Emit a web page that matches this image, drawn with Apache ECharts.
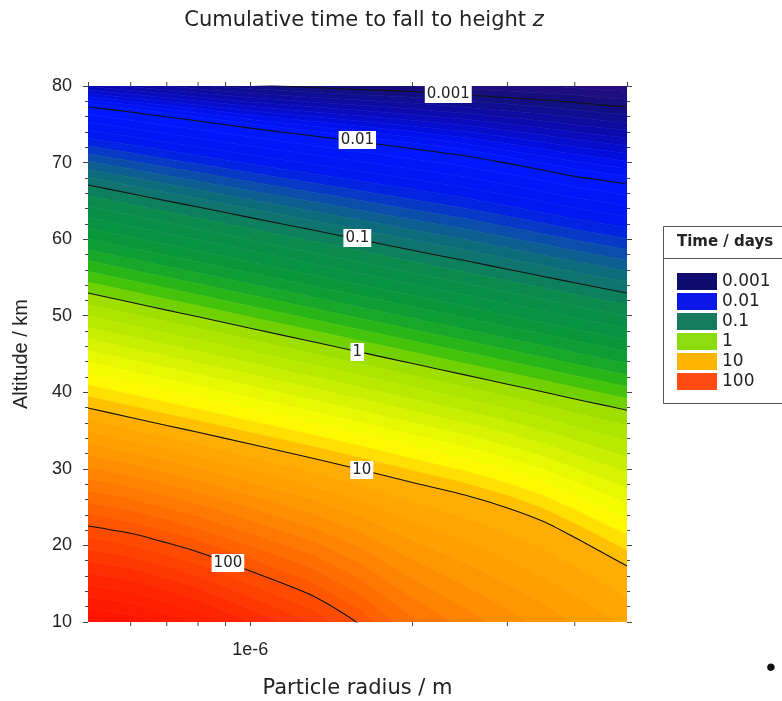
<!DOCTYPE html>
<html><head><meta charset="utf-8">
<script src="https://cdn.jsdelivr.net/npm/echarts@6/dist/echarts.min.js"></script>
<style>html,body{margin:0;padding:0;background:#fff}#c{width:782px;height:701px}</style>
</head><body><div id="c"></div>
<script>
// ---- data ----
const radius = [5e-7, 6e-7, 7e-7, 8e-7, 1e-6, 1.3e-6, 1.6e-6, 2e-6, 2.5e-6, 3e-6, 3.5e-6, 4e-6, 4.5e-6, 5e-6];
const contourLevels = [0.001, 0.01, 0.1, 1, 10, 100];
const levelNames = ['0.001', '0.01', '0.1', '1', '10', '100'];
// altitude (km) of each contour at each radius
const alt_0001 = [81.7, 81.3, 81.0, 80.65, 80.2, 79.8, 79.54, 79.28, 78.82, 78.5, 78.17, 77.85, 77.5, 77.26];
const alt_001  = [77.26, 76.6, 75.95, 75.43, 74.5, 73.5, 72.7, 71.8, 70.9, 69.9, 69.0, 68.2, 67.7, 67.2];
const alt_01   = [67.07, 65.95, 65.0, 64.2, 62.81, 61.22, 59.94, 58.55, 57.2, 56.07, 55.13, 54.3, 53.59, 52.97];
const alt_1    = [52.97, 51.75, 50.73, 49.86, 48.36, 46.63, 45.24, 43.75, 42.27, 41.06, 40.04, 39.12, 38.36, 37.66];
const alt_10   = [37.95, 36.71, 35.66, 34.78, 33.25, 31.42, 29.92, 28.22, 26.58, 24.9, 23.12, 21.03, 19.07, 17.3];
const alt_100  = [22.54, 21.58, 20.34, 19.14, 16.66, 13.49, 9.6, 3.2, -2.8, -8, -12.6, -16.6, -19.9, -23];
const contourAlt = [alt_0001, alt_001, alt_01, alt_1, alt_10, alt_100];
const legendColors = ['#0d0b6e', '#0b17e8', '#167a5c', '#8cdc10', '#ffb400', '#ff4a10'];
const labelRadius = [2.33e-6, 1.58e-6, 1.58e-6, 1.58e-6, 1.61e-6, 9.09e-7];
const labelAlt = [78.96, 72.95, 60.15, 45.26, 29.85, 17.7];
const xTickValues = [1e-6];
const xTickLabels = ['1e-6'];
const xMinorTicks = [6e-7, 7e-7, 8e-7, 9e-7, 2e-6, 3e-6, 4e-6];
// colour map: log10(time) -> colour
const cmapStops = [
  [-3.7, '#4a0a84'], [-3.3, '#2c0c80'], [-3.0, '#12107a'], [-2.6, '#0a0ab4'], [-2.25, '#0010ee'],
  [-2.0, '#0018ff'], [-1.6, '#0018f0'], [-1.4, '#0a44b8'], [-1.2, '#0d6882'], [-1.0, '#0f7868'],
  [-0.9, '#0a8850'], [-0.6, '#089440'], [-0.4, '#10a030'], [-0.2, '#30bc10'], [-0.05, '#70d000'],
  [0.0, '#98dc00'], [0.35, '#c8ee00'], [0.6, '#f0fa00'], [0.72, '#ffff00'], [0.85, '#ffe000'],
  [1.0, '#ffb000'], [1.4, '#ff9400'], [1.7, '#ff7400'], [2.0, '#ff5000'], [2.4, '#ff2800'], [3.0, '#ff0800']
];

function hexToRgb(h){return [parseInt(h.substr(1,2),16),parseInt(h.substr(3,2),16),parseInt(h.substr(5,2),16)];}
function cmap(L){
  if (L <= cmapStops[0][0]) return cmapStops[0][1];
  for (let k = 0; k < cmapStops.length - 1; k++) {
    const a = cmapStops[k], b = cmapStops[k+1];
    if (L <= b[0]) {
      const t = (L - a[0]) / (b[0] - a[0]);
      const ca = hexToRgb(a[1]), cb = hexToRgb(b[1]);
      const c = ca.map((v, j) => Math.round(v + (cb[j] - v) * t));
      return 'rgb(' + c.join(',') + ')';
    }
  }
  return cmapStops[cmapStops.length-1][1];
}

const logLevels = contourLevels.map(v => Math.log10(v));
function altAt(i, L){
  const n = logLevels.length;
  let k;
  if (L <= logLevels[0]) k = 0;
  else if (L >= logLevels[n-1]) k = n - 2;
  else { k = 0; while (L > logLevels[k+1]) k++; }
  const t = (L - logLevels[k]) / (logLevels[k+1] - logLevels[k]);
  const za = contourAlt[k][i], zb = contourAlt[k+1][i];
  return za + (zb - za) * t;
}

function renderFill(params, api){
  const children = [];
  const step = 0.1;
  for (let n = -37; n < 30; n++) {
    const L0 = n * step, L1 = (n + 1) * step;
    const up = radius.map((r, i) => api.coord([r, altAt(i, L0)]));
    const dn = radius.map((r, i) => api.coord([r, altAt(i, L1)])).reverse();
    const col = cmap((L0 + L1) / 2);
    children.push({type: 'polygon', shape: {points: up.concat(dn)}, style: {fill: col, stroke: col, lineWidth: 0.6}});
  }
  return {type: 'group', children};
}

function renderMinorTicks(params, api){
  const v = api.value(0);
  const b = api.coord([v, 10]);
  const t = api.coord([v, 80]);
  return {type: 'group', children: [
    {type: 'line', shape: {x1: b[0], y1: b[1], x2: b[0], y2: b[1] + 4}, style: {stroke: '#444', lineWidth: 1}},
    {type: 'line', shape: {x1: t[0], y1: t[1], x2: t[0], y2: t[1] - 4}, style: {stroke: '#444', lineWidth: 1}}
  ]};
}

const FONT = 'Liberation Sans, Arial, sans-serif';
const WIDE = 'DejaVu Sans, sans-serif';
const series = [];
series.push({type: 'custom', name: 'field', renderItem: renderFill, data: [[radius[0], 10]], encode: {x: 0, y: 1}, clip: true, silent: true, z: 1});
contourAlt.forEach((arr, k) => {
  series.push({type: 'line', name: 'contour ' + levelNames[k], data: radius.map((r, i) => [r, arr[i]]),
    showSymbol: false, smooth: 0.25, clip: true, silent: true, z: 3,
    lineStyle: {color: '#111', width: 1.1}});
});
series.push({type: 'scatter', name: 'labels', symbolSize: 1, silent: true, z: 5,
  itemStyle: {color: 'rgba(0,0,0,0)', opacity: 1},
  data: labelRadius.map((r, i) => [r, labelAlt[i], levelNames[i]]),
  label: {show: true, position: 'inside', formatter: p => p.data[2], backgroundColor: '#ffffff', opacity: 1,
    padding: [2, 2, 1, 2], fontSize: 15, color: '#222', fontFamily: WIDE}});
series.push({type: 'custom', name: 'minor ticks', renderItem: renderMinorTicks, data: xMinorTicks.map(v => [v, 10]),
  encode: {x: 0, y: 1}, clip: false, silent: true, z: 6});
levelNames.forEach((nm, k) => {
  series.push({type: 'scatter', name: nm, data: [], itemStyle: {color: legendColors[k], opacity: 1}});
});

const option = {
  animation: false,
  backgroundColor: '#fff',
  title: {text: 'Cumulative time to fall to height {i|z}', left: 359, top: 5, textAlign: 'center',
    textStyle: {fontSize: 21, fontWeight: 'normal', color: '#222', fontFamily: WIDE,
      rich: {i: {fontStyle: 'italic', fontSize: 21, color: '#222', fontFamily: WIDE}}}},
  grid: {left: 88, top: 86, width: 539, height: 536, containLabel: false, outerBoundsMode: 'none'},
  xAxis: [
    {type: 'log', logBase: 10, min: 5e-7, max: 5e-6, position: 'bottom',
      name: 'Particle radius / m', nameLocation: 'middle', nameGap: 56,
      nameTextStyle: {fontSize: 21, color: '#222', fontFamily: WIDE},
      axisLine: {show: false}, splitLine: {show: false},
      axisTick: {show: true, length: 4, lineStyle: {color: '#444'}},
      axisLabel: {fontSize: 18, color: '#222', fontFamily: FONT, margin: 19, showMinLabel: false, showMaxLabel: false,
        formatter: v => { const k = xTickValues.findIndex(t => Math.abs(t - v) / t < 1e-6); return k >= 0 ? xTickLabels[k] : ''; }}},
    {type: 'log', logBase: 10, min: 5e-7, max: 5e-6, position: 'top',
      axisLine: {show: false}, splitLine: {show: false},
      axisTick: {show: true, length: 4, lineStyle: {color: '#444'}}, axisLabel: {show: false}}
  ],
  yAxis: [
    {type: 'value', min: 10, max: 80, interval: 10, position: 'left',
      name: 'Altitude / km', nameLocation: 'middle', nameGap: 57, nameRotate: 90,
      nameTextStyle: {fontSize: 20, color: '#222', fontFamily: FONT},
      axisLine: {show: false}, splitLine: {show: false},
      axisTick: {show: true, length: 5, lineStyle: {color: '#444'}},
      minorTick: {show: true, splitNumber: 5, length: 3, lineStyle: {color: '#444'}},
      axisLabel: {fontSize: 18, color: '#222', fontFamily: FONT, margin: 16}},
    {type: 'value', min: 10, max: 80, interval: 10, position: 'right',
      axisLine: {show: false}, splitLine: {show: false},
      axisTick: {show: true, length: 5, lineStyle: {color: '#444'}},
      minorTick: {show: true, splitNumber: 5, length: 3, lineStyle: {color: '#444'}},
      axisLabel: {show: false}}
  ],
  legend: {data: levelNames, orient: 'vertical', left: 672, top: 268, icon: 'rect',
    itemWidth: 40, itemHeight: 17, itemGap: 3, selectedMode: false,
    textStyle: {fontSize: 17, color: '#222', fontFamily: WIDE}},
  graphic: [
    {type: 'rect', shape: {x: 663.5, y: 226.5, width: 130, height: 177}, style: {fill: 'none', stroke: '#555', lineWidth: 1}, z: 0},
    {type: 'line', shape: {x1: 663.5, y1: 258.5, x2: 782, y2: 258.5}, style: {stroke: '#555', lineWidth: 1}},
    {type: 'text', x: 725, y: 242, style: {text: 'Time / days', font: 'bold 15px ' + WIDE, fill: '#222', textAlign: 'center', textVerticalAlign: 'middle'}},
    {type: 'text', x: 771, y: 668, style: {text: '\u2022', font: '28px ' + FONT, fill: '#111', textAlign: 'center', textVerticalAlign: 'middle'}}
  ],
  series: series
};
const chart = echarts.init(document.getElementById('c'), null, {renderer: 'canvas'});
chart.setOption(option);
</script></body></html>
